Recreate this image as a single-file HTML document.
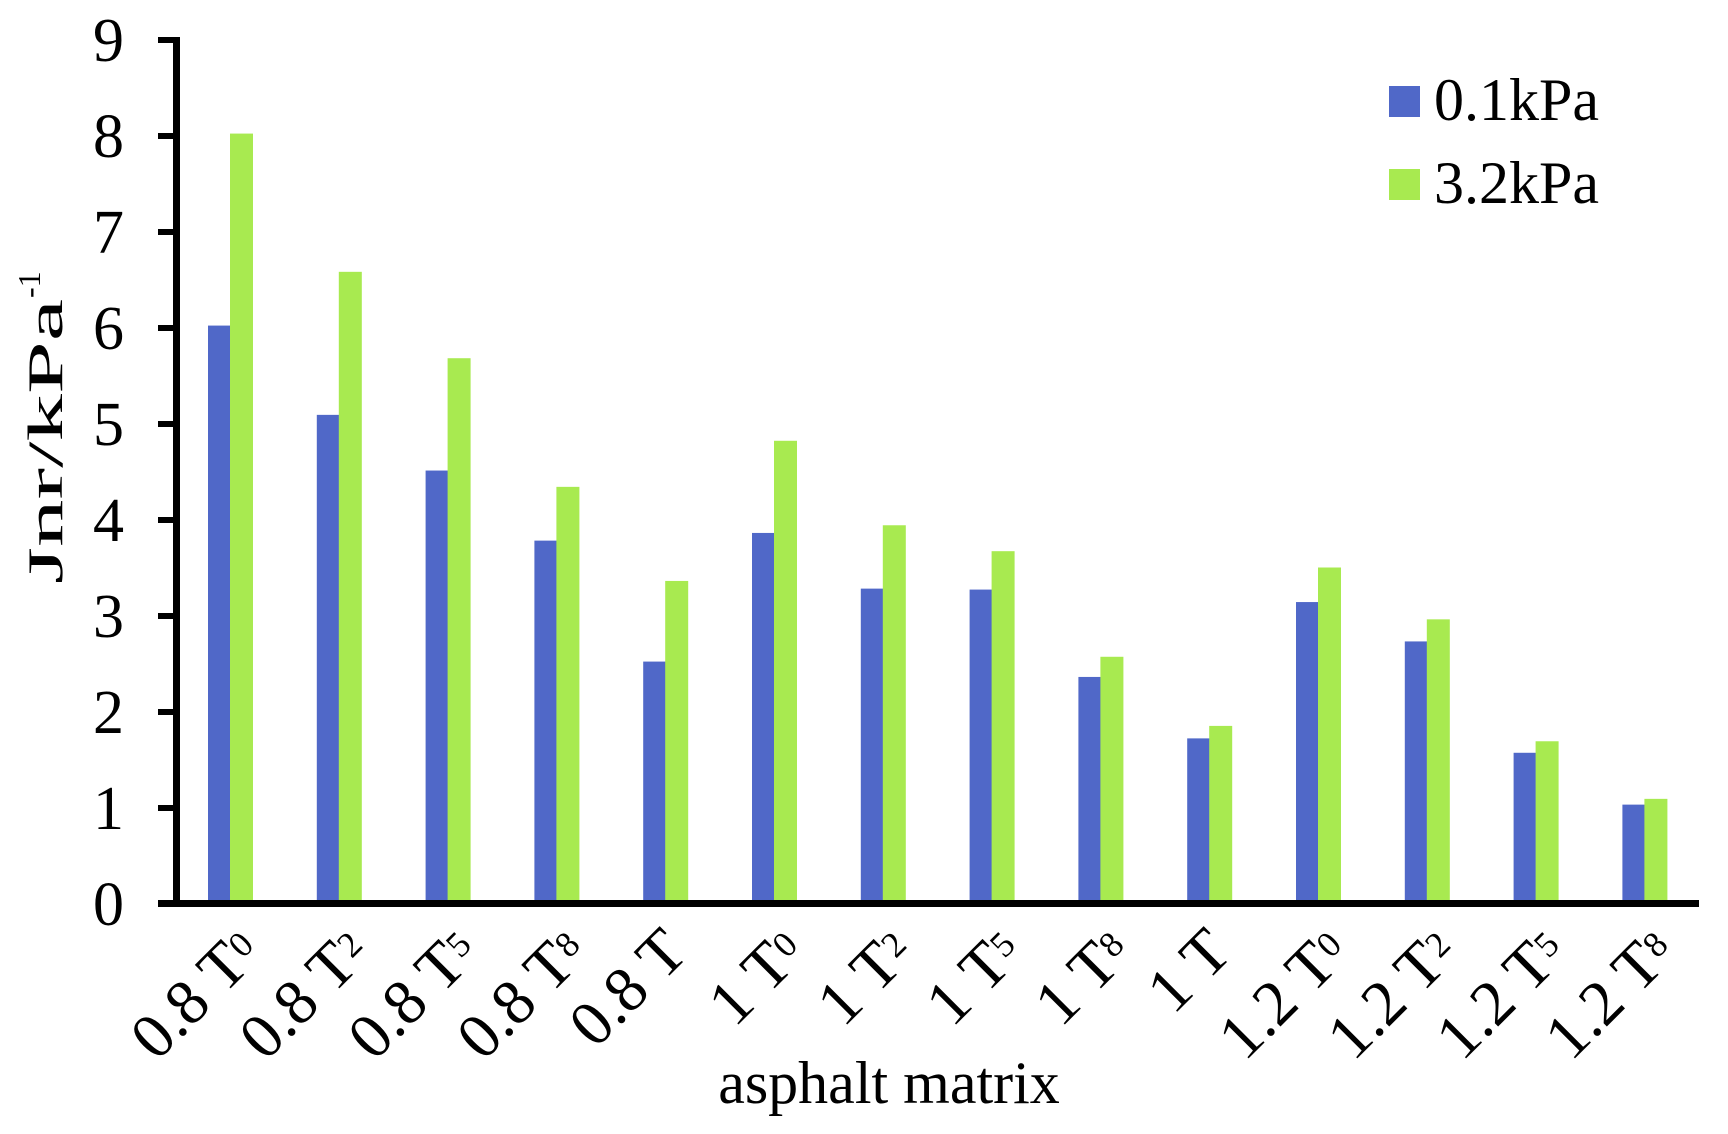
<!DOCTYPE html>
<html><head><meta charset="utf-8"><style>html,body{margin:0;padding:0;background:#fff}svg{display:block}</style></head>
<body>
<svg width="1728" height="1134" viewBox="0 0 1728 1134" xmlns="http://www.w3.org/2000/svg" font-family="'Liberation Serif', serif">
<rect width="1728" height="1134" fill="#fff"/>
<g fill="#5068C8">
<rect x="208" y="325.58" width="22.5" height="574.42"/>
<rect x="316.8" y="414.86" width="22.5" height="485.14"/>
<rect x="425.6" y="470.54" width="22.5" height="429.46"/>
<rect x="534.4" y="540.62" width="22.5" height="359.38"/>
<rect x="643.2" y="661.58" width="22.5" height="238.42"/>
<rect x="752" y="532.94" width="22.5" height="367.06"/>
<rect x="860.8" y="588.62" width="22.5" height="311.38"/>
<rect x="969.6" y="589.58" width="22.5" height="310.42"/>
<rect x="1078.4" y="676.94" width="22.5" height="223.06"/>
<rect x="1187.2" y="738.38" width="22.5" height="161.62"/>
<rect x="1296" y="602.06" width="22.5" height="297.94"/>
<rect x="1404.8" y="641.42" width="22.5" height="258.58"/>
<rect x="1513.6" y="752.78" width="22.5" height="147.22"/>
<rect x="1622.4" y="804.62" width="22.5" height="95.38"/>
</g>
<g fill="#A8EA50">
<rect x="230" y="133.58" width="23" height="766.42"/>
<rect x="338.8" y="271.82" width="23" height="628.18"/>
<rect x="447.6" y="358.22" width="23" height="541.78"/>
<rect x="556.4" y="486.86" width="23" height="413.14"/>
<rect x="665.2" y="580.94" width="23" height="319.06"/>
<rect x="774" y="440.78" width="23" height="459.22"/>
<rect x="882.8" y="525.26" width="23" height="374.74"/>
<rect x="991.6" y="551.18" width="23" height="348.82"/>
<rect x="1100.4" y="656.78" width="23" height="243.22"/>
<rect x="1209.2" y="725.9" width="23" height="174.1"/>
<rect x="1318" y="567.5" width="23" height="332.5"/>
<rect x="1426.8" y="619.34" width="23" height="280.66"/>
<rect x="1535.6" y="741.26" width="23" height="158.74"/>
<rect x="1644.4" y="798.86" width="23" height="101.14"/>
</g>
<rect x="173" y="37" width="7" height="870" fill="#000"/>
<rect x="158" y="900" width="1541" height="7" fill="#000"/>
<g fill="#000">
<rect x="158" y="37" width="18" height="6"/><rect x="158" y="133" width="18" height="6"/>
<rect x="158" y="229" width="18" height="6"/><rect x="158" y="325" width="18" height="6"/>
<rect x="158" y="421" width="18" height="6"/><rect x="158" y="517" width="18" height="6"/>
<rect x="158" y="613" width="18" height="6"/><rect x="158" y="709" width="18" height="6"/>
<rect x="158" y="805" width="18" height="6"/>
</g>
<g font-size="62" text-anchor="end" fill="#000">
<text x="124" y="61">9</text><text x="124" y="157">8</text><text x="124" y="253">7</text>
<text x="124" y="349">6</text><text x="124" y="445">5</text><text x="124" y="541">4</text>
<text x="124" y="637">3</text><text x="124" y="733">2</text><text x="124" y="829">1</text>
<text x="124" y="925">0</text>
</g>
<text transform="translate(62,584) rotate(-90)" font-size="50" textLength="285" lengthAdjust="spacingAndGlyphs">Jnr/kPa</text>
<text transform="translate(40,298) rotate(-90)" font-size="32">-1</text>
<text x="889" y="1103" font-size="60" text-anchor="middle">asphalt matrix</text>
<rect x="1389" y="86" width="31" height="31" fill="#5068C8"/>
<rect x="1389" y="169" width="31" height="31" fill="#A8EA50"/>
<text x="1434" y="120" font-size="60">0.1kPa</text>
<text x="1434" y="203" font-size="60">3.2kPa</text>
<g font-size="64" text-anchor="end">
<text transform="translate(264,955) rotate(-45)">0.8 T<tspan font-size="36" dy="-12">0</tspan></text>
<text transform="translate(372.8,955) rotate(-45)">0.8 T<tspan font-size="36" dy="-12">2</tspan></text>
<text transform="translate(481.6,955) rotate(-45)">0.8 T<tspan font-size="36" dy="-12">5</tspan></text>
<text transform="translate(590.4,955) rotate(-45)">0.8 T<tspan font-size="36" dy="-12">8</tspan></text>
<text transform="translate(690,955) rotate(-45)">0.8 T</text>
<text transform="translate(808,955) rotate(-45)">1 T<tspan font-size="36" dy="-12">0</tspan></text>
<text transform="translate(916.8,955) rotate(-45)">1 T<tspan font-size="36" dy="-12">2</tspan></text>
<text transform="translate(1025.6,955) rotate(-45)">1 T<tspan font-size="36" dy="-12">5</tspan></text>
<text transform="translate(1134.4,955) rotate(-45)">1 T<tspan font-size="36" dy="-12">8</tspan></text>
<text transform="translate(1234,955) rotate(-45)">1 T</text>
<text transform="translate(1352,955) rotate(-45)">1.2 T<tspan font-size="36" dy="-12">0</tspan></text>
<text transform="translate(1460.8,955) rotate(-45)">1.2 T<tspan font-size="36" dy="-12">2</tspan></text>
<text transform="translate(1569.6,955) rotate(-45)">1.2 T<tspan font-size="36" dy="-12">5</tspan></text>
<text transform="translate(1678.4,955) rotate(-45)">1.2 T<tspan font-size="36" dy="-12">8</tspan></text>
</g>
</svg>
</body></html>
